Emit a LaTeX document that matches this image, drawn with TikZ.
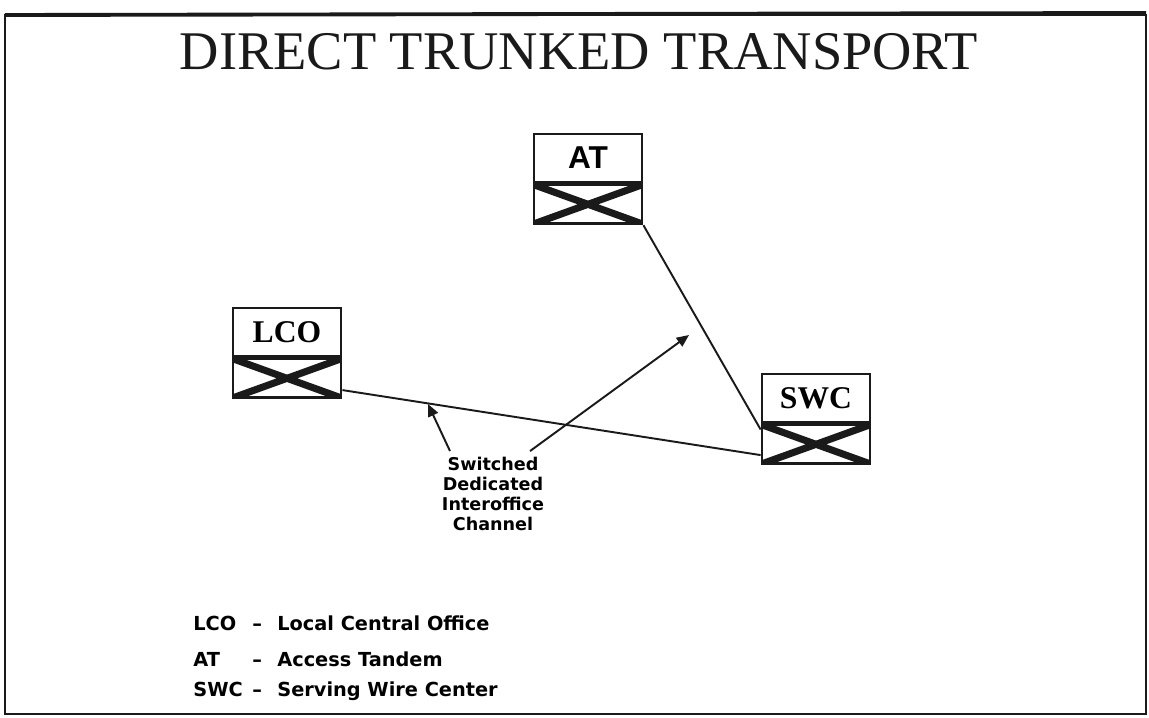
\documentclass[tikz,border=0pt]{standalone}
\usepackage{fontspec}
\setmainfont{Liberation Serif}
\newfontfamily\legendfont{DejaVu Sans}
\newfontfamily\boxsans{Liberation Sans}
\usetikzlibrary{arrows.meta,calc,positioning}
\definecolor{ink}{HTML}{1A1A1A}

\tikzset{
  officebox/.style={draw=ink,line width=1.6pt,fill=white,minimum width=108*0.02cm,minimum height=48*0.02cm,inner sep=0pt,font=\bfseries\fontsize{18}{20}\selectfont},
  crossbox/.style={draw=ink,line width=1.6pt,fill=white,minimum width=108*0.02cm,minimum height=39*0.02cm,inner sep=0pt,
    path picture={\draw[ink,line width=4pt] (path picture bounding box.north west) -- (path picture bounding box.south east)
      (path picture bounding box.south west) -- (path picture bounding box.north east);}},
  trunk/.style={ink,line width=1.1pt},
  pointer/.style={ink,line width=1.1pt,-{Triangle[length=7pt,width=6pt]}},
  legend/.style={font=\legendfont\bfseries\fontsize{11}{13}\selectfont,anchor=base west,inner sep=0pt}
}

\begin{document}
\begin{tikzpicture}[x=0.02cm,y=-0.02cm]
\useasboundingbox (0,0) rectangle (1149,717);
\draw[ink,line width=1.2pt] (5,15) rectangle (1146,714);
\draw[ink,line width=2.2pt] (5,15) -- (1146,13);

\node[font=\fontsize{31}{34}\selectfont,text=ink] (title) at (579,52) {DIRECT TRUNKED TRANSPORT};

% offices
\node[officebox,font=\boxsans\bfseries\fontsize{18}{20}\selectfont] (atd) at (588,158) {AT};
\node[crossbox,below=0pt of atd] (atdx) {};
\node[officebox] (lco) at (287,332) {LCO};
\node[crossbox,below=0pt of lco] (lcox) {};
\node[officebox] (swc) at (816,398) {SWC};
\node[crossbox,below=0pt of swc] (swcx) {};

\draw[trunk] (lcox.-12) -- (swcx.191);
\draw[trunk] (atdx.south east) -- (swcx.165);

% label and pointers
\node[font=\legendfont\bfseries\fontsize{10}{11.3}\selectfont,align=center,inner sep=0pt] (chan) at (493,494)
  {Switched\\Dedicated\\Interoffice\\Channel};
\coordinate (tipL) at (428,404);
\coordinate (tipR) at (689,335);
\draw[pointer] ([shift={(-43,-6)}]chan.north) -- (tipL);
\draw[pointer] ([shift={(37,-6)}]chan.north) -- (tipR);

% legend
\foreach \abbr/\name/\y in {LCO/Local Central Office/630,AT/Access Tandem/666,SWC/Serving Wire Center/696}{
  \node[legend] (ab-\abbr) at (193,\y) {\abbr};
  \node[legend] (da-\abbr) at (252,\y) {\textendash};
  \node[legend] (de-\abbr) at (277,\y) {\name};
}
\end{tikzpicture}
\end{document}
